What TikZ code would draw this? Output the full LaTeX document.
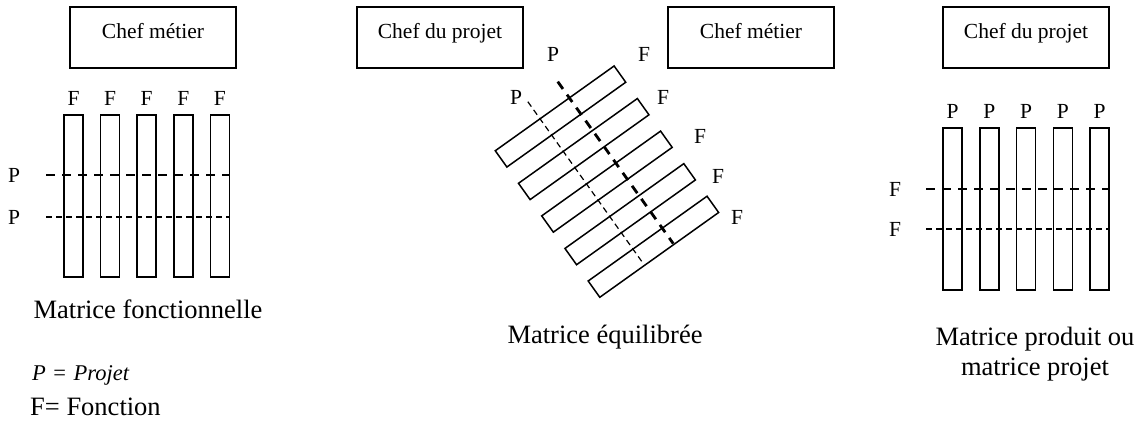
\documentclass[tikz,border=0pt]{standalone}
\usepackage{fontspec}
\setmainfont{Liberation Serif}
\begin{document}
\begin{tikzpicture}[x=1pt,y=-1pt,
  box/.style={draw, line width=1.8pt, minimum width=166pt, minimum height=61pt, inner sep=0pt},
  bar/.style={draw, line width=1.5pt, minimum width=19pt, minimum height=162pt, inner sep=0pt},
  rbar/.style={draw, line width=1.5pt, minimum width=146pt, minimum height=20pt, inner sep=0pt},
  thindash/.style={line width=1.2pt, dash pattern=on 6pt off 4pt},
  thickdash/.style={line width=2.8pt, dash pattern=on 9pt off 7pt},
  small/.style={font=\fontsize{21.5}{26}\selectfont, inner sep=0pt, anchor=base},
  big/.style={font=\fontsize{26.5}{30}\selectfont, inner sep=0pt, anchor=base},
]
\useasboundingbox (0,0) rectangle (1144,428);

% ---------- left: matrice fonctionnelle ----------
\node[box] (cm1) at (153,37.5) {};
\node[small] (cm1t) at (153,39) {Chef métier};
\foreach \i [evaluate=\i as \cx using 73.5+36.6*(\i-1)] in {1,...,5} {
  \node[bar] (lb\i) at (\cx,196) {};
  \node[small] (lf\i) at (\cx,106) {F};
}
\coordinate (lp1s) at (46,175);
\coordinate (lp2s) at (46,217);
\draw[thickdash] (lp1s) -- (lp1s -| lb5.east);
\draw[thindash] (lp2s) -- (lp2s -| lb5.east);
\node[small] (lp1) at (14,182) {P};
\node[small] (lp2) at (14,224) {P};
\node[big] (lt) at (148,318) {Matrice fonctionnelle};
\node[big, anchor=base west, font=\fontsize{22.5}{27}\selectfont\itshape] (leg1) at (32,380) {P\,\,\upshape=\,\,\itshape Projet};
\node[big, anchor=base west] (leg2) at (30,415) {F= Fonction};

% ---------- middle: matrice equilibree ----------
\node[box] (cp2) at (440,37.5) {};
\node[small] (cp2t) at (440,39) {Chef du projet};
\node[box] (cm2) at (751,37.5) {};
\node[small] (cm2t) at (751,39) {Chef métier};
\begin{scope}[shift={(560.5,116.5)}, rotate=35.5, transform shape]
  \foreach \i in {1,...,5} {
    \node[rbar] (mb\i) at (0,{40*(\i-1)}) {};
  }
  \coordinate (mp1s) at (-18,-31);
  \coordinate (mp1e) at (-18,166);
  \coordinate (mp2s) at (18,-30);
  \coordinate (mp2e) at (18,169);
\end{scope}
\draw[thindash] (mp1s) -- (mp1e);
\draw[thickdash] (mp2s) -- (mp2e);
\node[small] (mpa) at (553,62) {P};
\node[small] (mpb) at (516,104) {P};
\node[small] (mf1) at (644,62) {F};
\node[small] (mf2) at (663,104) {F};
\node[small] (mf3) at (700,143) {F};
\node[small] (mf4) at (718,183) {F};
\node[small] (mf5) at (737,224) {F};
\node[big] (mt) at (605,343) {Matrice équilibrée};

% ---------- right: matrice produit ----------
\node[box] (cp3) at (1026,37.5) {};
\node[small] (cp3t) at (1026,39) {Chef du projet};
\foreach \i [evaluate=\i as \cx using 952.5+36.75*(\i-1)] in {1,...,5} {
  \node[bar] (rb\i) at (\cx,209) {};
  \node[small] (rp\i) at (\cx,118) {P};
}
\coordinate (rf1s) at (926,189);
\coordinate (rf2s) at (926,229);
\draw[thickdash] (rf1s) -- (rf1s -| rb5.east);
\draw[thindash] (rf2s) -- (rf2s -| rb5.east);
\node[small] (rf1) at (895,196) {F};
\node[small] (rf2) at (895,236) {F};
\node[big] (rt1) at (1035,345) {Matrice produit ou};
\node[big] (rt2) at (1035,375) {matrice projet};
\end{tikzpicture}
\end{document}
